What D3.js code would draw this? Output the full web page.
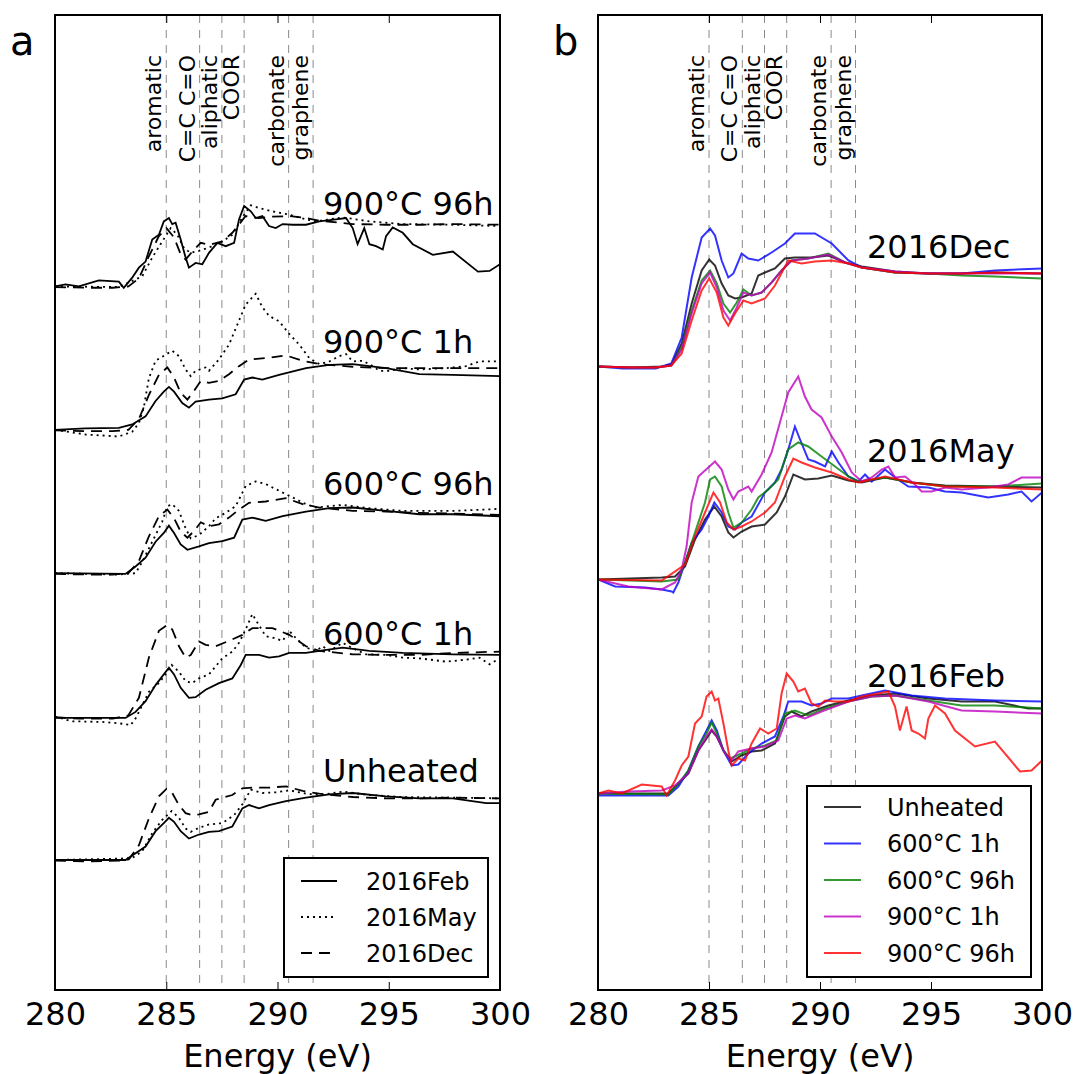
<!DOCTYPE html>
<html>
<head>
<meta charset="utf-8">
<script src="https://cdn.jsdelivr.net/npm/d3@7/dist/d3.min.js"></script>
<style>
    body {margin: 0; background: #fff;}
    svg {font-family: "DejaVu Sans", sans-serif;}
</style>
</head>
<body>
<div id="js-chart"></div>
<script>
// 坐标轴
var energyDomain = [280, 300];
var majorTicks = [280, 285, 290, 295, 300];
var minorTicks = d3.range(280, 301, 1);

// 特征峰位置
var featureNames = ["aromatic", "C=C C=O", "aliphatic", "COOR", "carbonate", "graphene"];
var featureEnergy = [285.0, 286.5, 287.5, 288.5, 290.5, 291.6];

var treatments = ["Unheated", "600°C 1h", "600°C 96h", "900°C 1h", "900°C 96h"];
var batches = ["2016Feb", "2016May", "2016Dec"];

// stacking step between groups (normalised units)
var stackStep = 2.14;
// label heights above each group's baseline
var treatmentLabelLevel = [1.17, 1.07, 1.17, 1.14, 1.07];
var batchLabelLevel = [1.07, 1.18, 1.08];

// ---- spectra [energy, normalised absorption] ----
var febUnheated = [[280,0],[283.17,0],[283.62,0.10],[284.07,0.20],[284.52,0.43],[284.89,0.55],[285.12,0.63],[285.35,0.57],[285.65,0.43],[286.02,0.32],[286.47,0.38],[286.92,0.42],[287.37,0.43],[287.97,0.50],[288.42,0.77],[288.72,0.82],[289.17,0.77],[289.62,0.82],[290.38,0.88],[291.28,0.93],[292.33,0.98],[293.38,1.00],[294.88,0.95],[296.38,0.92],[297.88,0.92],[299.38,0.85],[300,0.85]];
var feb600h1 = [[280,-0.02],[283.17,-0.02],[283.62,0.07],[284.07,0.23],[284.52,0.47],[284.89,0.63],[285.12,0.73],[285.35,0.63],[285.65,0.43],[286.02,0.28],[286.32,0.29],[286.77,0.40],[287.37,0.50],[287.97,0.57],[288.35,0.77],[288.57,0.92],[289.17,0.92],[289.62,0.88],[290.07,0.90],[290.53,0.95],[291.28,0.95],[291.88,0.98],[292.93,1.03],[294.13,0.98],[295.63,0.95],[297.88,0.93],[300,0.92]];
var feb600h96 = [[280,0],[283.17,-0.01],[283.62,0.10],[284.07,0.23],[284.52,0.47],[284.89,0.60],[285.12,0.71],[285.35,0.60],[285.65,0.43],[285.95,0.35],[286.47,0.40],[286.92,0.45],[287.52,0.48],[288.05,0.53],[288.42,0.80],[288.87,0.83],[289.47,0.78],[290.23,0.85],[291.28,0.92],[292.33,0.97],[293.38,0.98],[294.88,0.93],[296.38,0.88],[297.88,0.88],[300,0.85]];
var feb900h1 = [[280,0],[281.37,0.02],[282.87,0.03],[283.47,0.08],[284.07,0.20],[284.52,0.43],[284.89,0.57],[285.12,0.64],[285.35,0.57],[285.72,0.40],[286.02,0.33],[286.32,0.42],[286.92,0.45],[287.52,0.47],[288.12,0.53],[288.50,0.75],[288.87,0.78],[289.32,0.75],[290.07,0.82],[291.28,0.92],[292.33,0.97],[293.38,0.98],[294.88,0.92],[296.38,0.83],[297.88,0.82],[300,0.80]];
var feb900h96 = [[280,0],[280.47,0.03],[281.07,0],[281.97,0.09],[282.87,0.07],[283.09,-0.02],[283.47,0.13],[283.77,0.28],[284.07,0.37],[284.37,0.70],[284.67,0.77],[284.89,0.97],[285.12,1.02],[285.27,0.93],[285.42,0.95],[285.65,0.70],[285.87,0.43],[286.02,0.28],[286.32,0.35],[286.62,0.33],[286.92,0.50],[287.30,0.65],[287.67,0.60],[288.05,0.65],[288.27,1.00],[288.50,1.20],[288.80,1.12],[289.02,1.02],[289.32,1.05],[289.62,0.90],[289.92,0.87],[290.23,0.93],[290.68,0.92],[291.28,0.92],[291.88,0.97],[292.63,1.00],[293.08,1.02],[293.38,0.87],[293.60,0.63],[293.90,0.87],[294.13,0.63],[294.43,0.60],[294.73,0.55],[294.88,0.75],[295.18,0.88],[295.63,0.80],[296.08,0.63],[296.98,0.47],[297.88,0.52],[299.01,0.22],[299.53,0.23],[300,0.33]];

var mayUnheated = [[280,0],[282.87,0.02],[283.47,0.03],[283.92,0.13],[284.37,0.40],[284.82,0.60],[285.24,0.73],[285.57,0.63],[285.87,0.47],[286.10,0.42],[286.47,0.48],[286.92,0.53],[287.52,0.55],[288.05,0.67],[288.42,0.83],[288.80,1.05],[289.32,1.00],[289.92,1.01],[290.53,1.04],[291.28,0.99],[291.88,0.97],[292.93,1.02],[294.13,0.97],[295.63,0.94],[297.88,0.93],[300,0.92]];
var may600h1 = [[280,0],[280.77,-0.07],[282.12,-0.08],[282.87,-0.10],[283.32,-0.12],[283.39,-0.13],[283.62,-0.03],[283.92,0.17],[284.22,0.37],[284.67,0.50],[284.97,0.63],[285.24,0.77],[285.57,0.67],[285.87,0.53],[286.17,0.50],[286.47,0.57],[286.92,0.63],[287.52,0.87],[287.97,0.97],[288.27,1.10],[288.57,1.30],[288.87,1.53],[289.10,1.40],[289.47,1.20],[289.77,1.18],[290.23,1.13],[290.53,1.28],[290.83,1.17],[291.28,1.03],[291.73,0.98],[292.03,1.05],[292.33,0.98],[292.93,1.10],[293.38,1.02],[293.98,0.93],[294.88,0.92],[295.63,0.88],[296.38,0.87],[297.58,0.82],[298.48,0.85],[299.08,0.88],[299.53,0.78],[300,0.87]];
var may600h96 = [[280,0],[282.87,-0.02],[283.62,0.0],[283.92,0.17],[284.37,0.47],[284.82,0.77],[285.05,1.00],[285.27,1.03],[285.57,0.93],[285.87,0.67],[286.10,0.52],[286.47,0.57],[286.92,0.70],[287.22,0.82],[287.67,0.90],[288.12,1.00],[288.57,1.30],[289.02,1.37],[289.47,1.33],[290.07,1.23],[290.68,1.13],[291.28,1.03],[291.73,0.98],[292.93,1.02],[294.13,0.97],[295.63,0.93],[297.88,0.93],[300,0.96]];
var may900h1 = [[280,0],[281.37,-0.07],[282.87,-0.10],[283.47,-0.03],[283.77,0.10],[283.99,0.33],[284.22,0.77],[284.52,1.03],[284.97,1.12],[285.27,1.18],[285.57,1.10],[285.87,0.90],[286.10,0.80],[286.32,0.88],[286.77,0.93],[286.92,0.88],[287.37,1.05],[287.82,1.27],[288.27,1.63],[288.57,1.87],[289.02,2.03],[289.32,1.83],[289.62,1.70],[290.07,1.62],[290.53,1.43],[290.98,1.27],[291.43,1.07],[291.88,0.98],[292.33,1.02],[292.78,1.10],[293.08,1.13],[293.38,1.02],[293.83,1.03],[294.28,0.95],[294.58,0.88],[295.03,0.88],[295.63,0.92],[296.38,0.90],[297.58,0.92],[298.48,0.95],[299.08,1.02],[300,1.02]];
var may900h96 = [[280,0],[282.87,-0.01],[283.92,0.15],[284.37,0.43],[284.82,0.67],[285.20,0.87],[285.50,0.77],[285.80,0.57],[286.10,0.50],[286.47,0.53],[286.92,0.58],[287.52,0.67],[287.97,0.77],[288.42,1.03],[288.80,1.21],[289.17,1.17],[289.77,1.12],[290.53,1.07],[291.28,1.00],[291.73,0.97],[292.93,1.03],[294.13,0.97],[295.63,0.93],[297.88,0.92],[300,0.90]];

var decUnheated = [[280,-0.01],[281.5,-0.02],[282.9,-0.01],[283.32,0.01],[283.77,0.22],[284.22,0.62],[284.67,0.95],[285.01,1.06],[285.27,1.00],[285.57,0.82],[285.87,0.70],[286.17,0.67],[286.47,0.68],[286.92,0.72],[287.22,0.90],[287.52,0.93],[287.97,0.97],[288.42,1.07],[288.87,1.08],[289.62,1.08],[290.38,1.10],[291.13,1.03],[291.88,0.99],[293.38,0.94],[294.88,0.92],[296.38,0.92],[297.88,0.93],[300,0.92]];
var dec600h1 = [[280,-0.01],[281.1,-0.03],[282.6,-0.03],[283.3,0.02],[283.77,0.28],[284.22,0.88],[284.67,1.28],[285.05,1.37],[285.27,1.30],[285.57,1.05],[285.87,0.88],[286.10,0.92],[286.47,1.12],[286.77,1.07],[287.22,1.05],[287.82,1.13],[288.42,1.22],[288.87,1.32],[289.77,1.32],[290.53,1.22],[291.28,1.05],[291.88,0.98],[293.38,0.93],[294.88,0.92],[296.38,0.92],[297.88,0.95],[300,0.97]];
var dec600h96 = [[280,-0.01],[281.5,-0.02],[282.6,-0.02],[283.3,0.0],[283.77,0.18],[284.22,0.55],[284.67,0.85],[285.05,0.95],[285.35,0.82],[285.65,0.62],[285.95,0.53],[286.25,0.63],[286.55,0.76],[286.92,0.70],[287.37,0.73],[287.82,0.83],[288.27,0.95],[288.72,1.05],[289.47,1.07],[290.38,1.12],[291.13,1.03],[291.88,0.98],[293.38,0.93],[294.88,0.92],[296.38,0.90],[297.88,0.89],[300,0.87]];
var dec900h1 = [[280,-0.01],[281.5,-0.02],[282.6,-0.02],[283.3,0.0],[283.77,0.16],[284.22,0.52],[284.67,0.82],[285.05,0.93],[285.35,0.78],[285.65,0.55],[285.95,0.45],[286.25,0.58],[286.55,0.73],[286.92,0.70],[287.37,0.73],[287.82,0.83],[288.27,0.95],[288.72,1.05],[289.47,1.07],[290.38,1.11],[291.13,1.03],[291.88,0.98],[293.38,0.94],[294.88,0.92],[296.38,0.92],[297.88,0.92],[300,0.92]];
var dec900h96 = [[280,-0.01],[281.5,-0.02],[282.6,-0.02],[283.3,0.0],[283.77,0.12],[284.22,0.45],[284.67,0.75],[285.01,0.87],[285.35,0.73],[285.65,0.48],[285.87,0.40],[286.17,0.52],[286.55,0.65],[286.92,0.62],[287.52,0.67],[287.97,0.80],[288.57,1.05],[289.17,1.02],[289.77,1.04],[290.53,1.05],[291.28,1.02],[291.88,0.98],[293.38,0.93],[294.88,0.92],[296.38,0.92],[297.88,0.93],[300,0.92]];

// spectra[batch][treatment]
var spectra = [
    [febUnheated, feb600h1, feb600h96, feb900h1, feb900h96],
    [mayUnheated, may600h1, may600h96, may900h1, may900h96],
    [decUnheated, dec600h1, dec600h96, dec900h1, dec900h96]
];

// 样式
var batchDash = ["none", "2,4", "11,7"];
var treatmentColor = ["#000000", "#0000ff", "#008000", "#bf00bf", "#ff0000"];

var svg = d3.select("#js-chart").append("svg")
    .attr("width", 1082)
    .attr("height", 1074);

// 单个面板：框、刻度、特征线
function drawFrame(opt) {
    var g = svg.append("g");
    var x = d3.scaleLinear().domain(energyDomain).range([opt.left, opt.right]);
    var y = d3.scaleLinear().domain(opt.yDomain).range([opt.bottom, opt.top]);

    g.append("clipPath").attr("id", opt.id + "-clip")
        .append("rect")
        .attr("x", opt.left).attr("y", opt.top)
        .attr("width", opt.right - opt.left).attr("height", opt.bottom - opt.top);

    // feature lines
    g.append("g").selectAll("line").data(featureEnergy).enter().append("line")
        .attr("x1", function (d) { return x(d); })
        .attr("x2", function (d) { return x(d); })
        .attr("y1", opt.top).attr("y2", opt.bottom)
        .attr("stroke", "#8a8a8a")
        .attr("stroke-width", 1)
        .attr("stroke-dasharray", "8,7");

    g.append("g").selectAll("text").data(featureNames).enter().append("text")
        .attr("transform", function (d, i) {
            return "translate(" + (x(featureEnergy[i]) - 5) + "," + (opt.top + 40) + ") rotate(-90)";
        })
        .attr("text-anchor", "end")
        .attr("font-size", 22)
        .text(function (d) { return d; });

    // axes
    var bottom = g.append("g").attr("transform", "translate(0," + opt.bottom + ")");
    bottom.call(d3.axisBottom(x).tickValues(minorTicks).tickSize(-4).tickFormat(""));
    bottom.call(d3.axisBottom(x).tickValues(majorTicks).tickSize(-8).tickPadding(12).tickFormat(d3.format("d")));
    var topAx = g.append("g").attr("transform", "translate(0," + opt.top + ")");
    topAx.call(d3.axisTop(x).tickValues(minorTicks).tickSize(-4).tickFormat(""));
    topAx.call(d3.axisTop(x).tickValues(majorTicks).tickSize(-8).tickFormat(""));
    g.selectAll(".domain").remove();
    g.selectAll(".tick line").attr("stroke", "#000").attr("stroke-width", 1);
    bottom.selectAll("text").attr("font-size", 32).attr("fill", "#000")
        .attr("font-family", "DejaVu Sans");

    g.append("text")
        .attr("x", (opt.left + opt.right) / 2)
        .attr("y", 1067)
        .attr("text-anchor", "middle")
        .attr("font-size", 32)
        .text("Energy (eV)");

    g.append("text")
        .attr("x", opt.left - 45)
        .attr("y", opt.top + 40)
        .attr("font-size", 40)
        .text(opt.letter);

    return {g: g, x: x, y: y};
}

var line = function (x, y, offset) {
    return d3.line()
        .x(function (d) { return x(d[0]); })
        .y(function (d) { return y(d[1] + offset); });
};

// ---- 面板 a: 按处理分组，黑线 ----
var pa = drawFrame({id: "pa", letter: "a", left: 55, right: 500, top: 15, bottom: 990, yDomain: [-1.94, 12.61]});
var curvesA = pa.g.append("g").attr("clip-path", "url(#pa-clip)");
treatments.forEach(function (t, ti) {
    var off = ti * stackStep;
    batches.forEach(function (b, bi) {
        curvesA.append("path")
            .datum(spectra[bi][ti])
            .attr("d", line(pa.x, pa.y, off))
            .attr("fill", "none")
            .attr("stroke", "#000")
            .attr("stroke-width", 1.8)
            .attr("stroke-dasharray", batchDash[bi]);
    });
    pa.g.append("text")
        .attr("x", 323)
        .attr("y", pa.y(off + treatmentLabelLevel[ti]))
        .attr("font-size", 32)
        .text(t);
});

// ---- 面板 b: 按批次分组，彩色线 ----
var pb = drawFrame({id: "pb", letter: "b", left: 598, right: 1042, top: 15, bottom: 990, yDomain: [-1.965, 7.785]});
var curvesB = pb.g.append("g").attr("clip-path", "url(#pb-clip)");
batches.forEach(function (b, bi) {
    var off = bi * stackStep;
    treatments.forEach(function (t, ti) {
        curvesB.append("path")
            .datum(spectra[bi][ti])
            .attr("d", line(pb.x, pb.y, off))
            .attr("fill", "none")
            .attr("stroke", treatmentColor[ti])
            .attr("stroke-opacity", 0.8)
            .attr("stroke-width", 2);
    });
    pb.g.append("text")
        .attr("x", 867)
        .attr("y", pb.y(off + batchLabelLevel[bi]))
        .attr("font-size", 32)
        .text(b);
});

// 图例 a
var legA = svg.append("g").attr("transform", "translate(284,858)");
legA.append("rect").attr("width", 204).attr("height", 119)
    .attr("fill", "#fff").attr("stroke", "#000").attr("stroke-width", 2);
batches.forEach(function (b, i) {
    var yy = 23 + i * 36;
    legA.append("line").attr("x1", 17).attr("x2", 53).attr("y1", yy).attr("y2", yy)
        .attr("stroke", "#000").attr("stroke-width", 1.8).attr("stroke-dasharray", batchDash[i]);
    legA.append("text").attr("x", 82).attr("y", yy + 8.5).attr("font-size", 24).text(b);
});

// 图例 b
var legB = svg.append("g").attr("transform", "translate(807,786)");
legB.append("rect").attr("width", 224).attr("height", 191)
    .attr("fill", "#fff").attr("stroke", "#000").attr("stroke-width", 2);
treatments.forEach(function (t, i) {
    var yy = 21 + i * 36.5;
    legB.append("line").attr("x1", 17).attr("x2", 54).attr("y1", yy).attr("y2", yy)
        .attr("stroke", treatmentColor[i]).attr("stroke-opacity", 0.8).attr("stroke-width", 2);
    legB.append("text").attr("x", 80).attr("y", yy + 8.5).attr("font-size", 24).text(t);
});

// 外框
[pa, pb].forEach(function (p) {
    var r = p.x.range(), d = p.y.range();
    p.g.append("rect")
        .attr("x", r[0]).attr("y", d[1])
        .attr("width", r[1] - r[0]).attr("height", d[0] - d[1])
        .attr("fill", "none").attr("stroke", "#000").attr("stroke-width", 2);
});
</script>
</body>
</html>
